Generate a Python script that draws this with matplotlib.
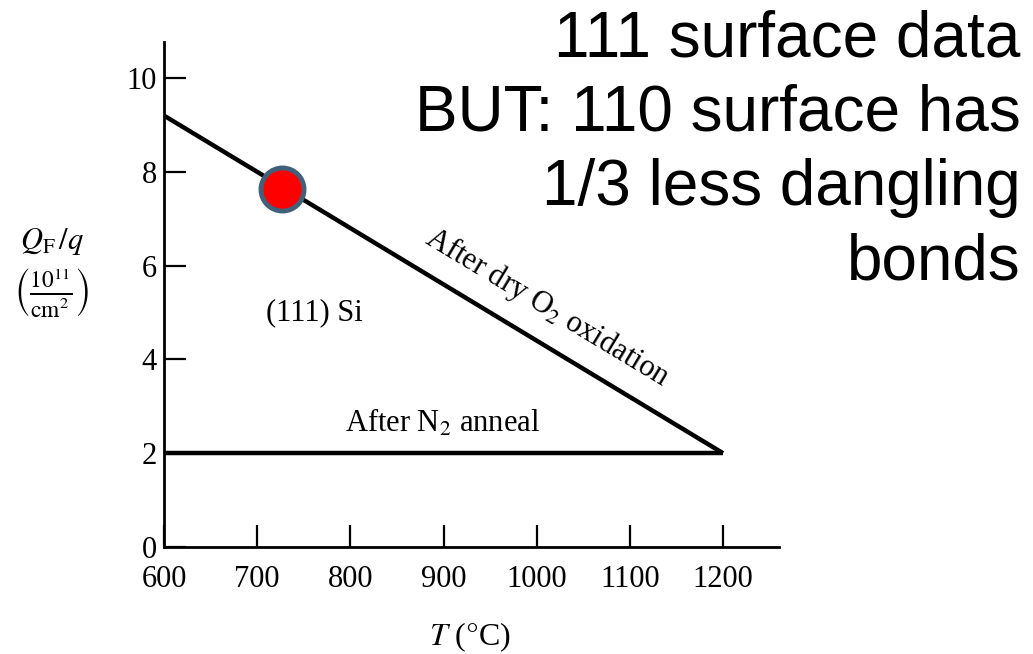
import numpy as np
import matplotlib.pyplot as plt

plt.rcParams['mathtext.fontset'] = 'stix'
plt.rcParams['font.family'] = ['Liberation Serif', 'DejaVu Serif']

# data
temp_o2 = [600, 1200]
qf_o2 = [9.2, 2.0]
temp_n2 = [600, 1200]
qf_n2 = [2.0, 2.0]
dot_t = [727]
dot_q = [7.63]
xticks = [600, 700, 800, 900, 1000, 1100, 1200]
yticks = [0, 2, 4, 6, 8, 10]

fig = plt.figure(figsize=(10.33, 6.54), dpi=100)
ax = fig.add_axes([0.1588, 0.1636, 0.5953, 0.7722])

ax.plot(temp_o2, qf_o2, color='black', lw=3.2, solid_capstyle='butt')
ax.plot(temp_n2, qf_n2, color='black', lw=3.2, solid_capstyle='butt')
ax.plot(dot_t, dot_q, 'o', ms=31, mfc='#ff0000', mec='#41607a', mew=3.5)

ax.set_xlim(600, 1260)
ax.set_ylim(0, 10.77)
ax.set_xticks(xticks)
ax.set_yticks(yticks)
for s in ['top', 'right']:
    ax.spines[s].set_visible(False)
for s in ['left', 'bottom']:
    ax.spines[s].set_linewidth(2)
ax.tick_params(direction='in', length=16, width=1.6, labelsize=22)
ax.tick_params(axis='y', pad=5)
ax.tick_params(axis='x', pad=13)

ax.text(761, 5.0, '(111) Si', fontsize=22, ha='center', va='center')
ax.text(899, 2.64, r'After N$_2$ anneal', fontsize=22, ha='center', va='center')
ax.text(1011, 5.1, r'After dry O$_2$ oxidation', fontsize=22, ha='center',
        va='center', rotation=-31.1, rotation_mode='anchor')

fig.text(0.05, 0.63, r'$Q_\mathrm{F}\,/q$', fontsize=22, ha='center', va='center')
fig.text(0.05, 0.552, r'$\left(\frac{10^{11}}{\mathrm{cm}^2}\right)$', fontsize=24,
         ha='center', va='center')
fig.text(0.455, 0.026, r'$T$ ($\degree$C)', fontsize=23, ha='center', va='center')

note = '111 surface data\nBUT: 110 surface has\n1/3 less dangling\nbonds'
fig.text(0.988, 0.985, note, fontsize=46, ha='right', va='top',
         family='Liberation Sans', linespacing=1.3)

fig.savefig('out.png', dpi=100)
